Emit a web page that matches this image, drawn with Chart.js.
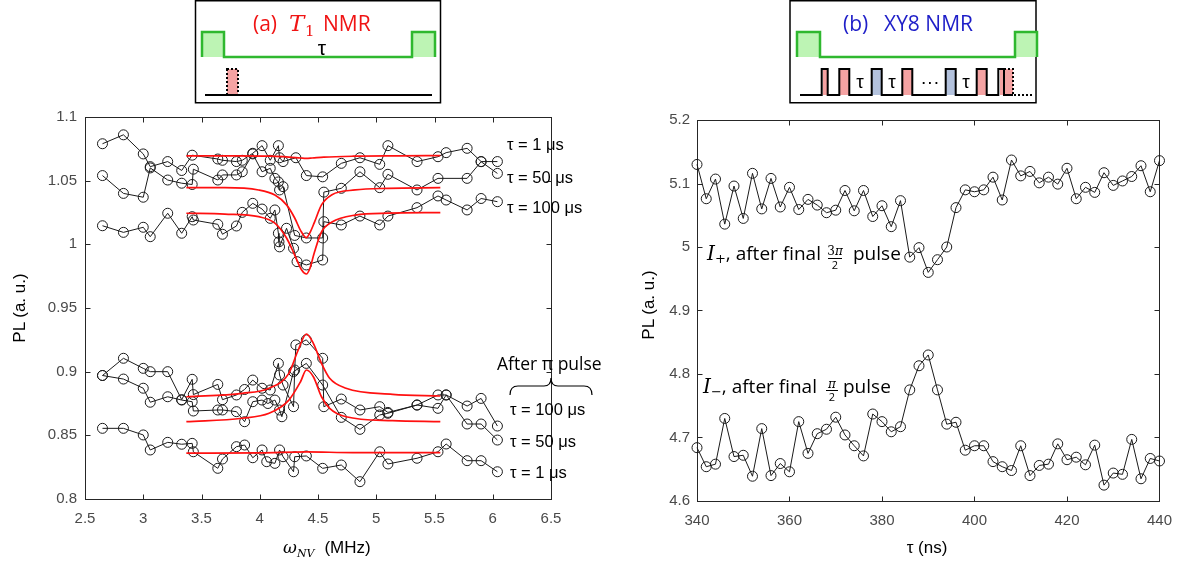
<!DOCTYPE html>
<html><head><meta charset="utf-8">
<script src="https://cdn.jsdelivr.net/npm/chart.js@4"></script>
<style>
html,body{margin:0;padding:0;background:#fff;width:1183px;height:571px;overflow:hidden}
#wrap{position:relative;width:1183px;height:571px}
canvas{position:absolute;left:0;top:0}
svg{position:absolute;left:0;top:0;pointer-events:none}
</style></head><body>
<div id="wrap">
<canvas id="cL" width="1183" height="571"></canvas>
<canvas id="cR" width="1183" height="571"></canvas>
<svg width="1183" height="571" xmlns="http://www.w3.org/2000/svg">
  <!-- schematic (a) -->
  <rect x="195.5" y="0.75" width="245" height="102" fill="#fff" stroke="#000" stroke-width="1.5"/>
  <text x="253" y="31" fill="#f01414" font-family="Open Sans" font-size="21">(a)</text>
  <text x="289" y="31" fill="#f01414" font-family="DejaVu Serif" font-style="italic" font-size="23">T</text>
  <text x="305" y="36" fill="#f01414" font-family="DejaVu Serif" font-size="15">1</text>
  <text x="323" y="31" fill="#f01414" font-family="Open Sans" font-size="21">NMR</text>
  <rect x="202" y="32" width="22" height="25" fill="#bdf4b4"/>
  <rect x="412" y="32" width="23" height="25" fill="#bdf4b4"/>
  <path d="M202,57 V32 H224 V57 H412 V32 H435 V57" fill="none" stroke="#2fb82f" stroke-width="2.5"/>
  <text x="322" y="55" text-anchor="middle" font-family="Liberation Sans" font-size="21">τ</text>
  <rect x="227" y="69" width="11" height="26" fill="#f5a3a3" stroke="#000" stroke-width="2" stroke-dasharray="2,2"/>
  <path d="M205,95 H432" stroke="#000" stroke-width="2"/>

  <!-- schematic (b) -->
  <rect x="790" y="0.75" width="246" height="102" fill="#fff" stroke="#000" stroke-width="1.5"/>
  <text x="843" y="31" fill="#1e1ec8" font-family="Open Sans" font-size="21">(b)</text>
  <text x="884" y="31" fill="#1e1ec8" font-family="Open Sans" font-size="21">XY8 NMR</text>
  <rect x="797" y="32" width="23" height="25" fill="#bdf4b4"/>
  <rect x="1015" y="32" width="22" height="25" fill="#bdf4b4"/>
  <path d="M797,57 V32 H820 V57 H1015 V32 H1037 V57" fill="none" stroke="#2fb82f" stroke-width="2.5"/>
  <rect x="823" y="69" width="5" height="26" fill="#f5a3a3"/>
  <rect x="839" y="69" width="10" height="26" fill="#f5a3a3"/>
  <rect x="872" y="69" width="10" height="26" fill="#b3c2dd"/>
  <rect x="902" y="69" width="10" height="26" fill="#f5a3a3"/>
  <rect x="946" y="69" width="10" height="26" fill="#b3c2dd"/>
  <rect x="977" y="69" width="10" height="26" fill="#f5a3a3"/>
  <rect x="1000" y="69" width="13" height="26" fill="#f5a3a3"/>
  <path d="M800,95 H821.7 V69 H827.7 V95 H839.3 V69 H849.3 V95 H871.7 V69 H881.7 V95 H902.3 V69 H912.3 V95 H945.7 V69 H955.7 V95 H976.7 V69 H986.7 V95 H998.3 V69 H1004 V95 H1013" fill="none" stroke="#000" stroke-width="2"/>
  <path d="M1004,69 H1013 V95 H1032" fill="none" stroke="#000" stroke-width="2" stroke-dasharray="2,2"/>
  <text x="860" y="88" text-anchor="middle" font-family="Liberation Sans" font-size="19">τ</text>
  <text x="892" y="88" text-anchor="middle" font-family="Liberation Sans" font-size="19">τ</text>
  <text x="930" y="88" text-anchor="middle" font-family="Liberation Sans" font-size="19">···</text>
  <text x="966" y="88" text-anchor="middle" font-family="Liberation Sans" font-size="19">τ</text>

  <!-- left annotations -->
  <g font-family="Liberation Sans" font-size="16.5" fill="#000">
    <text x="507" y="150">τ = 1 μs</text>
    <text x="507" y="183">τ = 50 μs</text>
    <text x="507" y="213">τ = 100 μs</text>
    <text x="510" y="415">τ = 100 μs</text>
    <text x="510" y="447">τ = 50 μs</text>
    <text x="510" y="478">τ = 1 μs</text>
  </g>
  <text x="497" y="370" font-family="Open Sans" font-size="17.5">After π pulse</text>
  <path d="M510,395 Q510,386 518,386 L544,386 Q551,386 551,378 Q551,386 558,386 L584,386 Q592,386 592,395" fill="none" stroke="#000" stroke-width="1.2"/>

  <!-- right annotations -->
  <g font-family="Open Sans" font-size="19" fill="#000">
    <text x="707" y="260"><tspan font-family="DejaVu Serif" font-style="italic" font-size="20">I</tspan><tspan font-family="DejaVu Serif" font-size="13" dy="3">+</tspan><tspan dy="-3">, after final</tspan></text>
    <text x="835" y="255" text-anchor="middle" font-size="12"><tspan font-family="DejaVu Serif">3</tspan><tspan font-family="DejaVu Serif" font-style="italic">π</tspan></text>
    <path d="M828,258.5 H842" stroke="#000" stroke-width="1"/>
    <text x="835" y="269" text-anchor="middle" font-size="11">2</text>
    <text x="853" y="260">pulse</text>

    <text x="703" y="393"><tspan font-family="DejaVu Serif" font-style="italic" font-size="20">I</tspan><tspan font-family="DejaVu Serif" font-size="13" dy="3">−</tspan><tspan dy="-3">, after final</tspan></text>
    <text x="832" y="388" text-anchor="middle" font-size="12" font-family="DejaVu Serif" font-style="italic">π</text>
    <path d="M826,390.5 H838" stroke="#000" stroke-width="1"/>
    <text x="832" y="401" text-anchor="middle" font-size="11">2</text>
    <text x="843" y="393">pulse</text>
  </g>

  <!-- axis titles -->
  <g font-family="Liberation Sans" font-size="17" fill="#000">
    <text transform="translate(25,308) rotate(-90)" text-anchor="middle">PL (a. u.)</text>
    <text transform="translate(654,305) rotate(-90)" text-anchor="middle">PL (a. u.)</text>
    <text x="283" y="553"><tspan font-family="DejaVu Serif" font-style="italic">ω</tspan><tspan font-family="DejaVu Serif" font-style="italic" font-size="11" dy="4">NV</tspan><tspan dy="-4" dx="10">(MHz)</tspan></text>
    <text x="927" y="553" text-anchor="middle">τ (ns)</text>
  </g>
</svg>
</div>
<script>
// ---------- Panel (a): T1 NMR, frequency sweep (MHz) ----------
const topTau1X   = [2.65,2.83,3.0,3.06,3.21,3.33,3.42,3.64,3.68,3.8,3.85,3.94,4.02,4.09,4.16,4.17,4.2,4.31,4.4,4.54,4.7,4.86,5.03,5.1,5.35,5.53,5.6,5.78,5.9,6.04];
const topTau1Y   = [1.079,1.086,1.071,1.061,1.065,1.058,1.070,1.067,1.066,1.065,1.066,1.0715,1.0775,1.066,1.0775,1.068,1.065,1.068,1.054,1.053,1.0636,1.068,1.0628,1.0775,1.065,1.0688,1.072,1.0754,1.065,1.065];
const topTau50X  = [2.65,2.83,3.0,3.06,3.21,3.33,3.42,3.43,3.64,3.68,3.8,3.85,3.94,4.02,4.09,4.13,4.16,4.17,4.2,4.3,4.4,4.54,4.55,4.7,4.86,5.03,5.1,5.35,5.53,5.78,5.9,6.04];
const topTau50Y  = [1.054,1.040,1.037,1.060,1.0505,1.048,1.047,1.059,1.0505,1.0545,1.0545,1.057,1.071,1.057,1.0597,1.0518,1.049,1.0427,1.0453,1.007,1.005,1.005,1.041,1.044,1.057,1.0445,1.055,1.0427,1.0518,1.0518,1.0649,1.0557];
const topTau100X = [2.65,2.83,3.0,3.06,3.21,3.33,3.42,3.43,3.64,3.68,3.8,3.85,3.94,4.02,4.09,4.13,4.16,4.165,4.17,4.23,4.29,4.32,4.4,4.54,4.55,4.7,4.86,5.03,5.1,5.35,5.53,5.6,5.78,5.9,6.04];
const topTau100Y = [1.0146,1.0094,1.0134,1.006,1.0244,1.0087,1.0217,1.0191,1.0157,1.0079,1.0144,1.0251,1.0322,1.0277,1.0204,1.027,1.0087,1.002,0.998,1.0126,0.9969,0.9864,0.9838,0.9877,1.0178,1.0152,1.0222,1.0152,1.0222,1.0288,1.038,1.0348,1.027,1.036,1.0335];

const piTau100X = [2.65,2.83,3.0,3.06,3.21,3.33,3.42,3.43,3.64,3.68,3.8,3.87,3.94,4.02,4.09,4.16,4.17,4.2,4.29,4.3,4.31,4.4,4.54,4.55,4.7,4.86,5.03,5.1,5.35,5.53,5.6,5.78,5.9,6.04];
const piTau100Y = [0.897,0.9105,0.9026,0.900,0.900,0.878,0.894,0.882,0.890,0.878,0.8817,0.886,0.8934,0.887,0.8856,0.9065,0.8974,0.8895,0.8725,0.9013,0.921,0.925,0.9105,0.8725,0.8785,0.8699,0.8725,0.868,0.8738,0.8817,0.8817,0.873,0.879,0.8573];
const piTau50X  = [2.65,2.83,3.0,3.06,3.21,3.33,3.42,3.43,3.64,3.68,3.8,3.87,3.94,4.02,4.07,4.13,4.17,4.19,4.29,4.4,4.54,4.7,4.86,5.03,5.1,5.35,5.53,5.6,5.78,5.9,6.04];
const piTau50Y  = [0.897,0.8942,0.887,0.876,0.8803,0.8777,0.8764,0.8691,0.8699,0.8699,0.8686,0.8607,0.8764,0.8777,0.875,0.8777,0.8699,0.8646,0.900,0.9065,0.8895,0.8641,0.8547,0.866,0.8673,0.8738,0.8712,0.8817,0.8589,0.8589,0.8463];
const piTau1X   = [2.65,2.83,3.0,3.06,3.21,3.33,3.42,3.43,3.64,3.68,3.8,3.87,3.94,4.02,4.06,4.13,4.17,4.2,4.29,4.3,4.4,4.54,4.7,4.86,5.03,5.1,5.35,5.53,5.6,5.78,5.9,6.04];
const piTau1Y   = [0.8555,0.8555,0.8503,0.8385,0.8445,0.843,0.8437,0.8371,0.8241,0.8314,0.8411,0.8424,0.8324,0.8385,0.8293,0.828,0.8385,0.8332,0.8214,0.8332,0.8338,0.8241,0.8267,0.8136,0.8371,0.8275,0.832,0.8371,0.8432,0.8301,0.8301,0.8214];

// fitted curves
const fitTopTau1X   = [3.37,3.8,4.1,4.25,4.35,4.4,4.45,4.55,4.8,5.2,5.55];
const fitTopTau1Y   = [1.0695,1.0695,1.0692,1.0685,1.0678,1.0675,1.0678,1.0685,1.0692,1.0695,1.0697];
const fitTopTau50X  = [3.37,3.7,3.99,4.13,4.23,4.3,4.35,4.4,4.43,4.47,4.53,4.62,4.82,5.1,5.55];
const fitTopTau50Y  = [1.0445,1.0445,1.0427,1.0387,1.031,1.0207,1.011,1.0052,1.009,1.0175,1.031,1.039,1.0427,1.044,1.0445];
const fitTopTau100X = [3.37,3.7,3.99,4.13,4.23,4.3,4.36,4.4,4.43,4.47,4.53,4.62,4.82,5.1,5.55];
const fitTopTau100Y = [1.0244,1.0238,1.0217,1.0167,1.005,0.9916,0.9798,0.9767,0.981,0.994,1.0097,1.0175,1.023,1.0245,1.0249];
const fitPiTau100X  = [3.37,3.85,4.08,4.25,4.33,4.4,4.46,4.53,4.6,4.74,5.14,5.55];
const fitPiTau100Y  = [0.8803,0.883,0.887,0.8987,0.917,0.9296,0.9223,0.9065,0.8948,0.887,0.8822,0.8809];
const fitPiTau50X   = [3.37,3.85,4.08,4.25,4.35,4.4,4.46,4.53,4.6,4.74,5.14,5.55];
const fitPiTau50Y   = [0.8607,0.8634,0.8673,0.8777,0.8921,0.9013,0.896,0.8803,0.8712,0.8646,0.8615,0.8607];
const fitPiTau1X    = [3.37,4.0,4.4,4.8,5.55];
const fitPiTau1Y    = [0.836,0.8362,0.837,0.8364,0.8364];

// ---------- Panel (b): XY8 NMR, tau sweep (ns) ----------
const tauNs = [340,342,344,346,348,350,352,354,356,358,360,362,364,366,368,370,372,374,376,378,380,382,384,386,388,390,392,394,396,398,400,402,404,406,408,410,412,414,416,418,420,422,424,426,428,430,432,434,436,438,440];
const iPlus = [5.130,5.076,5.107,5.036,5.096,5.045,5.116,5.060,5.108,5.063,5.094,5.059,5.075,5.066,5.054,5.058,5.089,5.057,5.089,5.048,5.065,5.032,5.073,4.984,4.999,4.960,4.980,5.000,5.062,5.090,5.087,5.090,5.110,5.074,5.137,5.112,5.119,5.101,5.110,5.099,5.124,5.076,5.094,5.086,5.117,5.097,5.104,5.111,5.128,5.087,5.136];
const iMinus = [4.684,4.654,4.658,4.730,4.670,4.672,4.639,4.714,4.640,4.659,4.646,4.725,4.675,4.706,4.713,4.732,4.704,4.687,4.671,4.737,4.725,4.709,4.717,4.775,4.813,4.830,4.775,4.721,4.724,4.680,4.687,4.687,4.662,4.654,4.648,4.687,4.640,4.656,4.658,4.690,4.665,4.669,4.657,4.688,4.625,4.644,4.642,4.697,4.635,4.667,4.663];

const xTicksA = [2.5,3,3.5,4,4.5,5,5.5,6,6.5];
const yTicksA = [0.8,0.85,0.9,0.95,1,1.05,1.1];

function pts(xs, ys){ return xs.map((x,i)=>({x:x, y:ys[i]})); }
const fmt = v => String(Math.round(v*1000)/1000);

const framePlugin = {
  id:'frame',
  beforeDatasetsDraw(chart){
    const {ctx, chartArea:{left,right,top,bottom}, scales:{x,y}} = chart;
    ctx.save();
    ctx.strokeStyle='#262626'; ctx.lineWidth=1;
    const l=Math.round(left)+0.5, r=Math.round(right)+0.5, t=Math.round(top)+0.5, b=Math.round(bottom)+0.5;
    ctx.strokeRect(l, t, r-l, b-t);
    const L=5;
    ctx.beginPath();
    x.ticks.forEach(tk=>{ const px=Math.round(x.getPixelForValue(tk.value))+0.5; ctx.moveTo(px,b); ctx.lineTo(px,b-L); ctx.moveTo(px,t); ctx.lineTo(px,t+L); });
    y.ticks.forEach(tk=>{ const py=Math.round(y.getPixelForValue(tk.value))+0.5; ctx.moveTo(l,py); ctx.lineTo(l+L,py); ctx.moveTo(r,py); ctx.lineTo(r-L,py); });
    ctx.stroke(); ctx.restore();
  }
};

const tickFont = {family:'Liberation Sans', size:15};
const tickColor = '#4a4a4a';

function dataSet(xs, ys){
  return {data: pts(xs,ys), showLine:true, borderColor:'#1a1a1a', borderWidth:1,
    pointRadius:5, pointBorderColor:'#1a1a1a', pointBorderWidth:1, pointBackgroundColor:'rgba(0,0,0,0)',
    pointHoverRadius:5, tension:0, order:2, clip:false};
}
function fitSet(xs, ys){
  return {data: pts(xs,ys), showLine:true, borderColor:'#ff1010', borderWidth:1.7, pointRadius:0,
    pointHoverRadius:0, cubicInterpolationMode:'monotone', order:1, clip:false};
}

new Chart(document.getElementById('cL'), {
  type:'scatter',
  data:{datasets:[
    dataSet(topTau1X, topTau1Y), dataSet(topTau50X, topTau50Y), dataSet(topTau100X, topTau100Y),
    dataSet(piTau100X, piTau100Y), dataSet(piTau50X, piTau50Y), dataSet(piTau1X, piTau1Y),
    fitSet(fitTopTau1X, fitTopTau1Y), fitSet(fitTopTau50X, fitTopTau50Y), fitSet(fitTopTau100X, fitTopTau100Y),
    fitSet(fitPiTau100X, fitPiTau100Y), fitSet(fitPiTau50X, fitPiTau50Y), fitSet(fitPiTau1X, fitPiTau1Y)
  ]},
  options:{
    responsive:false, animation:false, devicePixelRatio:1,
    layout:{padding:{left:0, top:117, right:632, bottom:0}},
    plugins:{legend:{display:false}, tooltip:{enabled:false}},
    scales:{
      x:{type:'linear', min:2.5, max:6.5,
        afterBuildTicks: s => { s.ticks = xTicksA.map(v=>({value:v})); },
        ticks:{color:tickColor, font:tickFont, padding:11, maxRotation:0, callback:fmt},
        grid:{display:false, drawTicks:false}, border:{display:false},
        afterFit: s => { s.height = 72; }},
      y:{type:'linear', min:0.8, max:1.1,
        afterBuildTicks: s => { s.ticks = yTicksA.map(v=>({value:v})); },
        ticks:{color:tickColor, font:tickFont, padding:8, callback:fmt},
        grid:{display:false, drawTicks:false}, border:{display:false},
        afterFit: s => { s.width = 85; }}
    }
  },
  plugins:[framePlugin]
});

const xTicksB = [340,360,380,400,420,440];
const yTicksB = [4.6,4.7,4.8,4.9,5,5.1,5.2];

new Chart(document.getElementById('cR'), {
  type:'scatter',
  data:{datasets:[ dataSet(tauNs, iPlus), dataSet(tauNs, iMinus) ]},
  options:{
    responsive:false, animation:false, devicePixelRatio:1,
    layout:{padding:{left:0, top:120, right:19, bottom:0}},
    plugins:{legend:{display:false}, tooltip:{enabled:false}},
    scales:{
      x:{type:'linear', min:340, max:440,
        afterBuildTicks: s => { s.ticks = xTicksB.map(v=>({value:v})); },
        ticks:{color:tickColor, font:tickFont, padding:11, maxRotation:0, callback:fmt},
        grid:{display:false, drawTicks:false}, border:{display:false},
        afterFit: s => { s.height = 70; }},
      y:{type:'linear', min:4.6, max:5.2,
        afterBuildTicks: s => { s.ticks = yTicksB.map(v=>({value:v})); },
        ticks:{color:tickColor, font:tickFont, padding:7, callback:fmt},
        grid:{display:false, drawTicks:false}, border:{display:false},
        afterFit: s => { s.width = 697; }}
    }
  },
  plugins:[framePlugin]
});
</script>
</body></html>
